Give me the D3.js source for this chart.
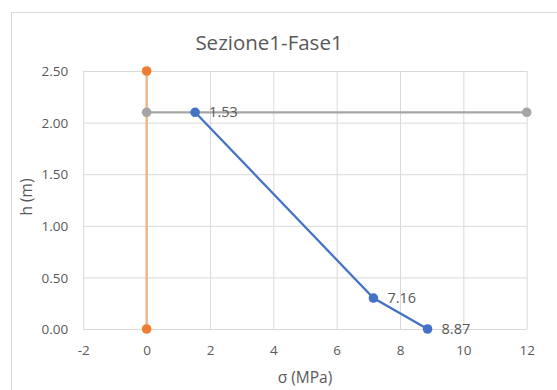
<!DOCTYPE html>
<html>
<head>
<meta charset="utf-8">
<script src="https://cdn.jsdelivr.net/npm/d3@7"></script>
<style>
  html, body { margin: 0; padding: 0; background: #fff; }
  svg { display: block; }
  text { font-family: "Open Sans", "Noto Sans", sans-serif; fill: #595959; }
</style>
</head>
<body>
<svg id="chart" width="557" height="390"></svg>
<script>
// Stress profile along the section height
const blueSigma = [1.53, 7.16, 8.87];
const blueH = [2.10, 0.30, 0.00];
const orangeSigma = [0, 0];
const orangeH = [0.00, 2.50];
const graySigma = [0, 12];
const grayH = [2.10, 2.10];

const xTicks = [-2, 0, 2, 4, 6, 8, 10, 12];
const yTicks = [0, 0.5, 1, 1.5, 2, 2.5];

const title = "Sezione1-Fase1";
const xTitle = "σ (MPa)";
const yTitle = "h (m)";

const svg = d3.select("#chart");
const plot = { left: 83.3, right: 526.7, top: 71, bottom: 329 };

const x = d3.scaleLinear().domain([-2, 12]).range([plot.left, plot.right]);
const y = d3.scaleLinear().domain([0, 2.5]).range([plot.bottom, plot.top]);

// chart frame
svg.append("rect")
  .attr("x", 11.5).attr("y", 12.5)
  .attr("width", 560).attr("height", 400)
  .attr("fill", "#fff").attr("stroke", "#D9D9D9").attr("stroke-width", 1);

// gridlines
const gx = svg.append("g")
  .attr("transform", `translate(0,${plot.bottom})`)
  .call(d3.axisBottom(x).tickValues(xTicks).tickSize(-(plot.bottom - plot.top)).tickFormat(d => String(d)));
gx.select(".domain").remove();
gx.selectAll("line").attr("stroke", "#D9D9D9").attr("stroke-width", 1);
gx.selectAll("text").attr("dy", 0).attr("y", 26).style("font-size", "13.5px").attr("fill", "#595959");

const gy = svg.append("g")
  .attr("transform", `translate(${plot.left},0)`)
  .call(d3.axisLeft(y).tickValues(yTicks).tickSize(-(plot.right - plot.left)).tickFormat(d3.format(".2f")));
gy.select(".domain").remove();
gy.selectAll("line").attr("stroke", "#D9D9D9").attr("stroke-width", 1);
gy.selectAll("text").attr("x", -15).attr("dy", "0.35em").style("font-size", "13.5px").attr("fill", "#595959");

// titles
svg.append("text").attr("x", 269).attr("y", 50).attr("text-anchor", "middle")
  .style("font-size", "20.5px").text(title);
svg.append("text").attr("x", 305).attr("y", 383).attr("text-anchor", "middle")
  .style("font-size", "15.5px").text(xTitle);
svg.append("text").attr("transform", "translate(32,197) rotate(-90)").attr("text-anchor", "middle")
  .style("font-size", "15.5px").text(yTitle);

const line = d3.line().x(d => x(d[0])).y(d => y(d[1]));

function series(sx, sy, lineColor, dotColor) {
  const pts = sx.map((v, i) => [v, sy[i]]);
  svg.append("path").datum(pts).attr("d", line)
    .attr("fill", "none").attr("stroke", lineColor).attr("stroke-width", 2.25);
  svg.append("g").selectAll("circle").data(pts).join("circle")
    .attr("cx", d => x(d[0])).attr("cy", d => y(d[1])).attr("r", 4.8)
    .attr("fill", dotColor);
  return pts;
}

series(orangeSigma, orangeH, "#F4B183", "#ED7D31");
series(graySigma, grayH, "#A5A5A5", "#A5A5A5");
const bluePts = series(blueSigma, blueH, "#4472C4", "#4472C4");

// value labels on the stress profile
svg.append("g").selectAll("text").data(bluePts).join("text")
  .attr("x", d => x(d[0]) + 14).attr("y", d => y(d[1])).attr("dy", "0.35em")
  .style("font-size", "14.5px").attr("fill", "#404040")
  .text(d => d3.format(".2f")(d[0]));
</script>
</body>
</html>
